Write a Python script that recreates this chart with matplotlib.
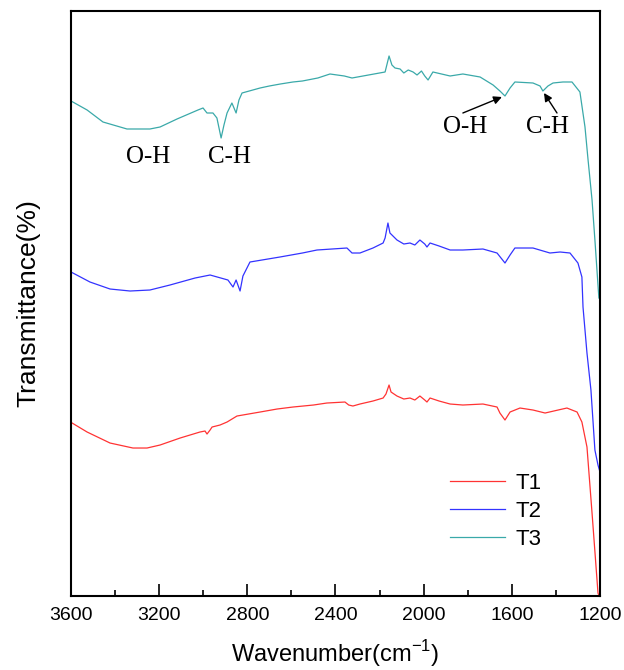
import matplotlib
matplotlib.use("Agg")
import matplotlib.pyplot as plt
from matplotlib.ticker import MultipleLocator

# FTIR spectra (wavenumber in cm-1, transmittance in a.u.)
w1 = [3595, 3527, 3423, 3319, 3255, 3196, 3105, 3015, 2992, 2983, 2969, 2960,
      2924, 2892, 2847, 2742, 2665, 2593, 2500, 2439, 2357, 2340, 2321, 2289,
      2230, 2184, 2171, 2157, 2148, 2121, 2090, 2062, 2040, 2017, 1995, 1985,
      1971, 1930, 1880, 1822, 1731, 1667, 1654, 1631, 1608, 1563, 1504, 1449,
      1390, 1350, 1304, 1282, 1259, 1236, 1209, 1204]
t1 = [173, 164, 153, 148, 148, 151, 158, 164, 165, 162, 166, 169,
      171, 174, 180, 184, 187, 189, 191, 193, 194, 191, 190, 192,
      195, 198, 202, 211, 204, 200, 197, 198, 196, 200, 196, 194,
      198, 195, 192, 191, 192, 189, 183, 176, 184, 188, 186, 183,
      186, 188, 184, 174, 149, 83, 3, 0]

w2 = [3600, 3514, 3423, 3332, 3242, 3151, 3037, 2969, 2888, 2865, 2851, 2833,
      2820, 2788, 2652, 2550, 2484, 2348, 2325, 2289, 2230, 2184, 2175, 2162,
      2153, 2121, 2090, 2062, 2040, 2017, 1995, 1985, 1971, 1930, 1880, 1822,
      1731, 1667, 1631, 1608, 1586, 1504, 1427, 1381, 1336, 1300, 1282, 1277,
      1259, 1241, 1223, 1209, 1200]
t2 = [324, 314, 307, 305, 306, 311, 318, 321, 316, 309, 316, 305,
      320, 334, 339, 343, 346, 348, 343, 343, 348, 353, 358, 373,
      363, 356, 352, 353, 351, 356, 352, 349, 353, 350, 346, 346,
      347, 343, 333, 341, 348, 348, 343, 344, 343, 333, 319, 289,
      243, 206, 146, 131, 124]

w3 = [3600, 3527, 3455, 3346, 3242, 3196, 3119, 3024, 3001, 2983, 2956, 2938,
      2919, 2906, 2892, 2870, 2851, 2838, 2824, 2742, 2700, 2650, 2593, 2550,
      2480, 2425, 2360, 2325, 2275, 2175, 2157, 2144, 2130, 2107, 2090, 2070,
      2048, 2030, 2010, 1995, 1980, 1958, 1880, 1822, 1744, 1685, 1654, 1631,
      1608, 1586, 1504, 1472, 1459, 1436, 1413, 1368, 1327, 1291, 1268, 1254,
      1236, 1223, 1205]
t3 = [495, 486, 474, 467, 467, 469, 477, 486, 488, 483, 483, 478,
      458, 471, 483, 493, 483, 496, 503, 508, 510, 512, 514, 515,
      518, 522, 520, 518, 520, 524, 540, 531, 528, 527, 523, 526,
      524, 521, 525, 520, 516, 524, 520, 522, 519, 511, 505, 500,
      508, 514, 513, 510, 505, 510, 513, 514, 514, 504, 469, 436,
      396, 356, 298]

labels = ["T1", "T2", "T3"]
colors = ["#ff3333", "#3333ff", "#3aa9a9"]

fig = plt.figure(figsize=(6.24, 6.70), dpi=100)
ax = fig.add_axes([0.1138, 0.1104, 0.8477, 0.8732])

ax.plot(w1, t1, color=colors[0], lw=0.9, label=labels[0])
ax.plot(w2, t2, color=colors[1], lw=0.9, label=labels[1])
ax.plot(w3, t3, color=colors[2], lw=0.9, label=labels[2])

ax.set_xlim(3600, 1200)
ax.set_ylim(0, 585)
ax.xaxis.set_major_locator(MultipleLocator(400))
ax.xaxis.set_minor_locator(MultipleLocator(200))
ax.tick_params(axis="x", which="major", direction="in", length=8.5, width=1.2,
               labelsize=14, pad=8)
ax.tick_params(axis="x", which="minor", direction="in", length=4.5, width=1.2)
ax.set_yticks([])
for s in ax.spines.values():
    s.set_linewidth(1.5)

sans = ["Liberation Sans", "DejaVu Sans"]
for lab in ax.get_xticklabels():
    lab.set_family(sans)
ax.set_xlabel(r"Wavenumber(cm$^{\mathregular{-1}}$)", fontsize=17, family=sans,
              labelpad=10)
ax.set_ylabel("Transmittance(%)", fontsize=19, family=sans, labelpad=22)

serif = ["Liberation Serif", "DejaVu Serif"]
ax.text(3251, 439, "O-H", fontsize=18, family=serif, ha="center", va="center")
ax.text(2879, 439, "C-H", fontsize=18, family=serif, ha="center", va="center")
ax.text(1812, 469, "O-H", fontsize=18, family=serif, ha="center", va="center")
ax.text(1440, 469, "C-H", fontsize=18, family=serif, ha="center", va="center")
arrow = dict(arrowstyle="-|>", color="black", lw=1.0, mutation_scale=12,
             shrinkA=0, shrinkB=0)
ax.annotate("", xy=(1645, 499), xytext=(1822, 483), arrowprops=arrow)
ax.annotate("", xy=(1454, 503), xytext=(1395, 483), arrowprops=arrow)

leg = ax.legend(loc="upper left", bbox_to_anchor=(0.716, 0.21), frameon=False,
                handlelength=2.5, handletextpad=0.45,
                labelspacing=0.3, borderpad=0, borderaxespad=0,
                prop={"family": sans, "size": 16})

fig.savefig("out.png", dpi=100)
